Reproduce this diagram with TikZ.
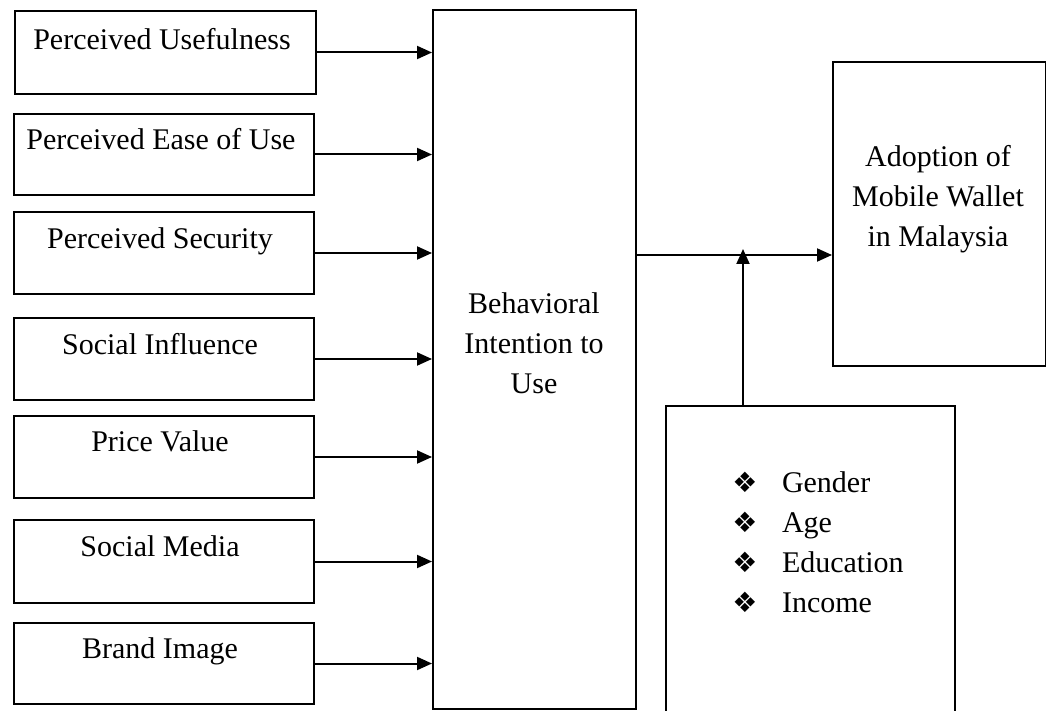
\documentclass[tikz,border=0pt]{standalone}
\usepackage{fontspec}
\setmainfont{Liberation Serif}
\newfontfamily\symfont{DejaVu Sans}
\usetikzlibrary{arrows.meta}

\begin{document}
\begin{tikzpicture}[x=1pt, y=-1pt, line width=2pt,
  box/.style={draw, rectangle, inner sep=0pt, anchor=north west},
  lbl/.style={anchor=base, inner sep=0pt, font=\fontsize{30}{40}\selectfont},
  item/.style={anchor=base west, inner sep=0pt, font=\fontsize{30}{40}\selectfont},
  bul/.style={anchor=center, inner sep=0pt, font=\symfont\fontsize{28}{32}\selectfont},
  arr/.style={-{Triangle[length=15pt,width=13pt]}},
]
\useasboundingbox (0,0) rectangle (1046,711);

% factor boxes on the left
\node[box, minimum width=301pt, minimum height=83pt] (b1) at (14,10)  {};
\node[box, minimum width=300pt, minimum height=81pt] (b2) at (13,113) {};
\node[box, minimum width=300pt, minimum height=82pt] (b3) at (13,211) {};
\node[box, minimum width=300pt, minimum height=82pt] (b4) at (13,317) {};
\node[box, minimum width=300pt, minimum height=82pt] (b5) at (13,415) {};
\node[box, minimum width=300pt, minimum height=83pt] (b6) at (13,519) {};
\node[box, minimum width=300pt, minimum height=81pt] (b7) at (13,622) {};

\node[lbl] (t1) at (162,50)  {Perceived Usefulness};
\node[lbl] (t2) at (161,150) {Perceived Ease of Use};
\node[lbl] (t3) at (160,248) {Perceived Security};
\node[lbl] (t4) at (160,354) {Social Influence};
\node[lbl] (t5) at (160,451) {Price Value};
\node[lbl] (t6) at (160,556) {Social Media};
\node[lbl] (t7) at (160,658) {Brand Image};

% intention box
\node[box, minimum width=203pt, minimum height=699pt] (mid) at (432,9) {};
\node[lbl] (m1) at (534,313) {Behavioral};
\node[lbl] (m2) at (534,353) {Intention to};
\node[lbl] (m3) at (534,393) {Use};

% adoption box
\node[box, minimum width=213pt, minimum height=304pt] (adopt) at (832,61) {};
\node[lbl] (a1) at (938,167) {Adoption of};
\node[lbl] (a2) at (938,207) {Mobile Wallet};
\node[lbl] (a3) at (938,247) {in Malaysia};

% moderators box (runs off the lower edge)
\node[box, minimum width=289pt, minimum height=320pt] (demo) at (665,405) {};
\foreach \i/\txt/\yy in {1/Gender/492, 2/Age/532, 3/Education/572, 4/Income/612}{
  \node[bul]  (d\i b) at (745,\yy-10) {❖};
  \node[item] (d\i)   at (781,\yy) {\txt};
}

% connectors
\foreach \i in {1,...,7}{
  \draw[arr] (b\i.east) -- (b\i.east -| mid.west);
}
\coordinate (m) at (743,255);
\draw[arr] (mid.east |- m) -- (adopt.west |- m);
\draw[arr] (demo.north -| m) -- ([yshift=6pt]m);
\end{tikzpicture}
\end{document}
